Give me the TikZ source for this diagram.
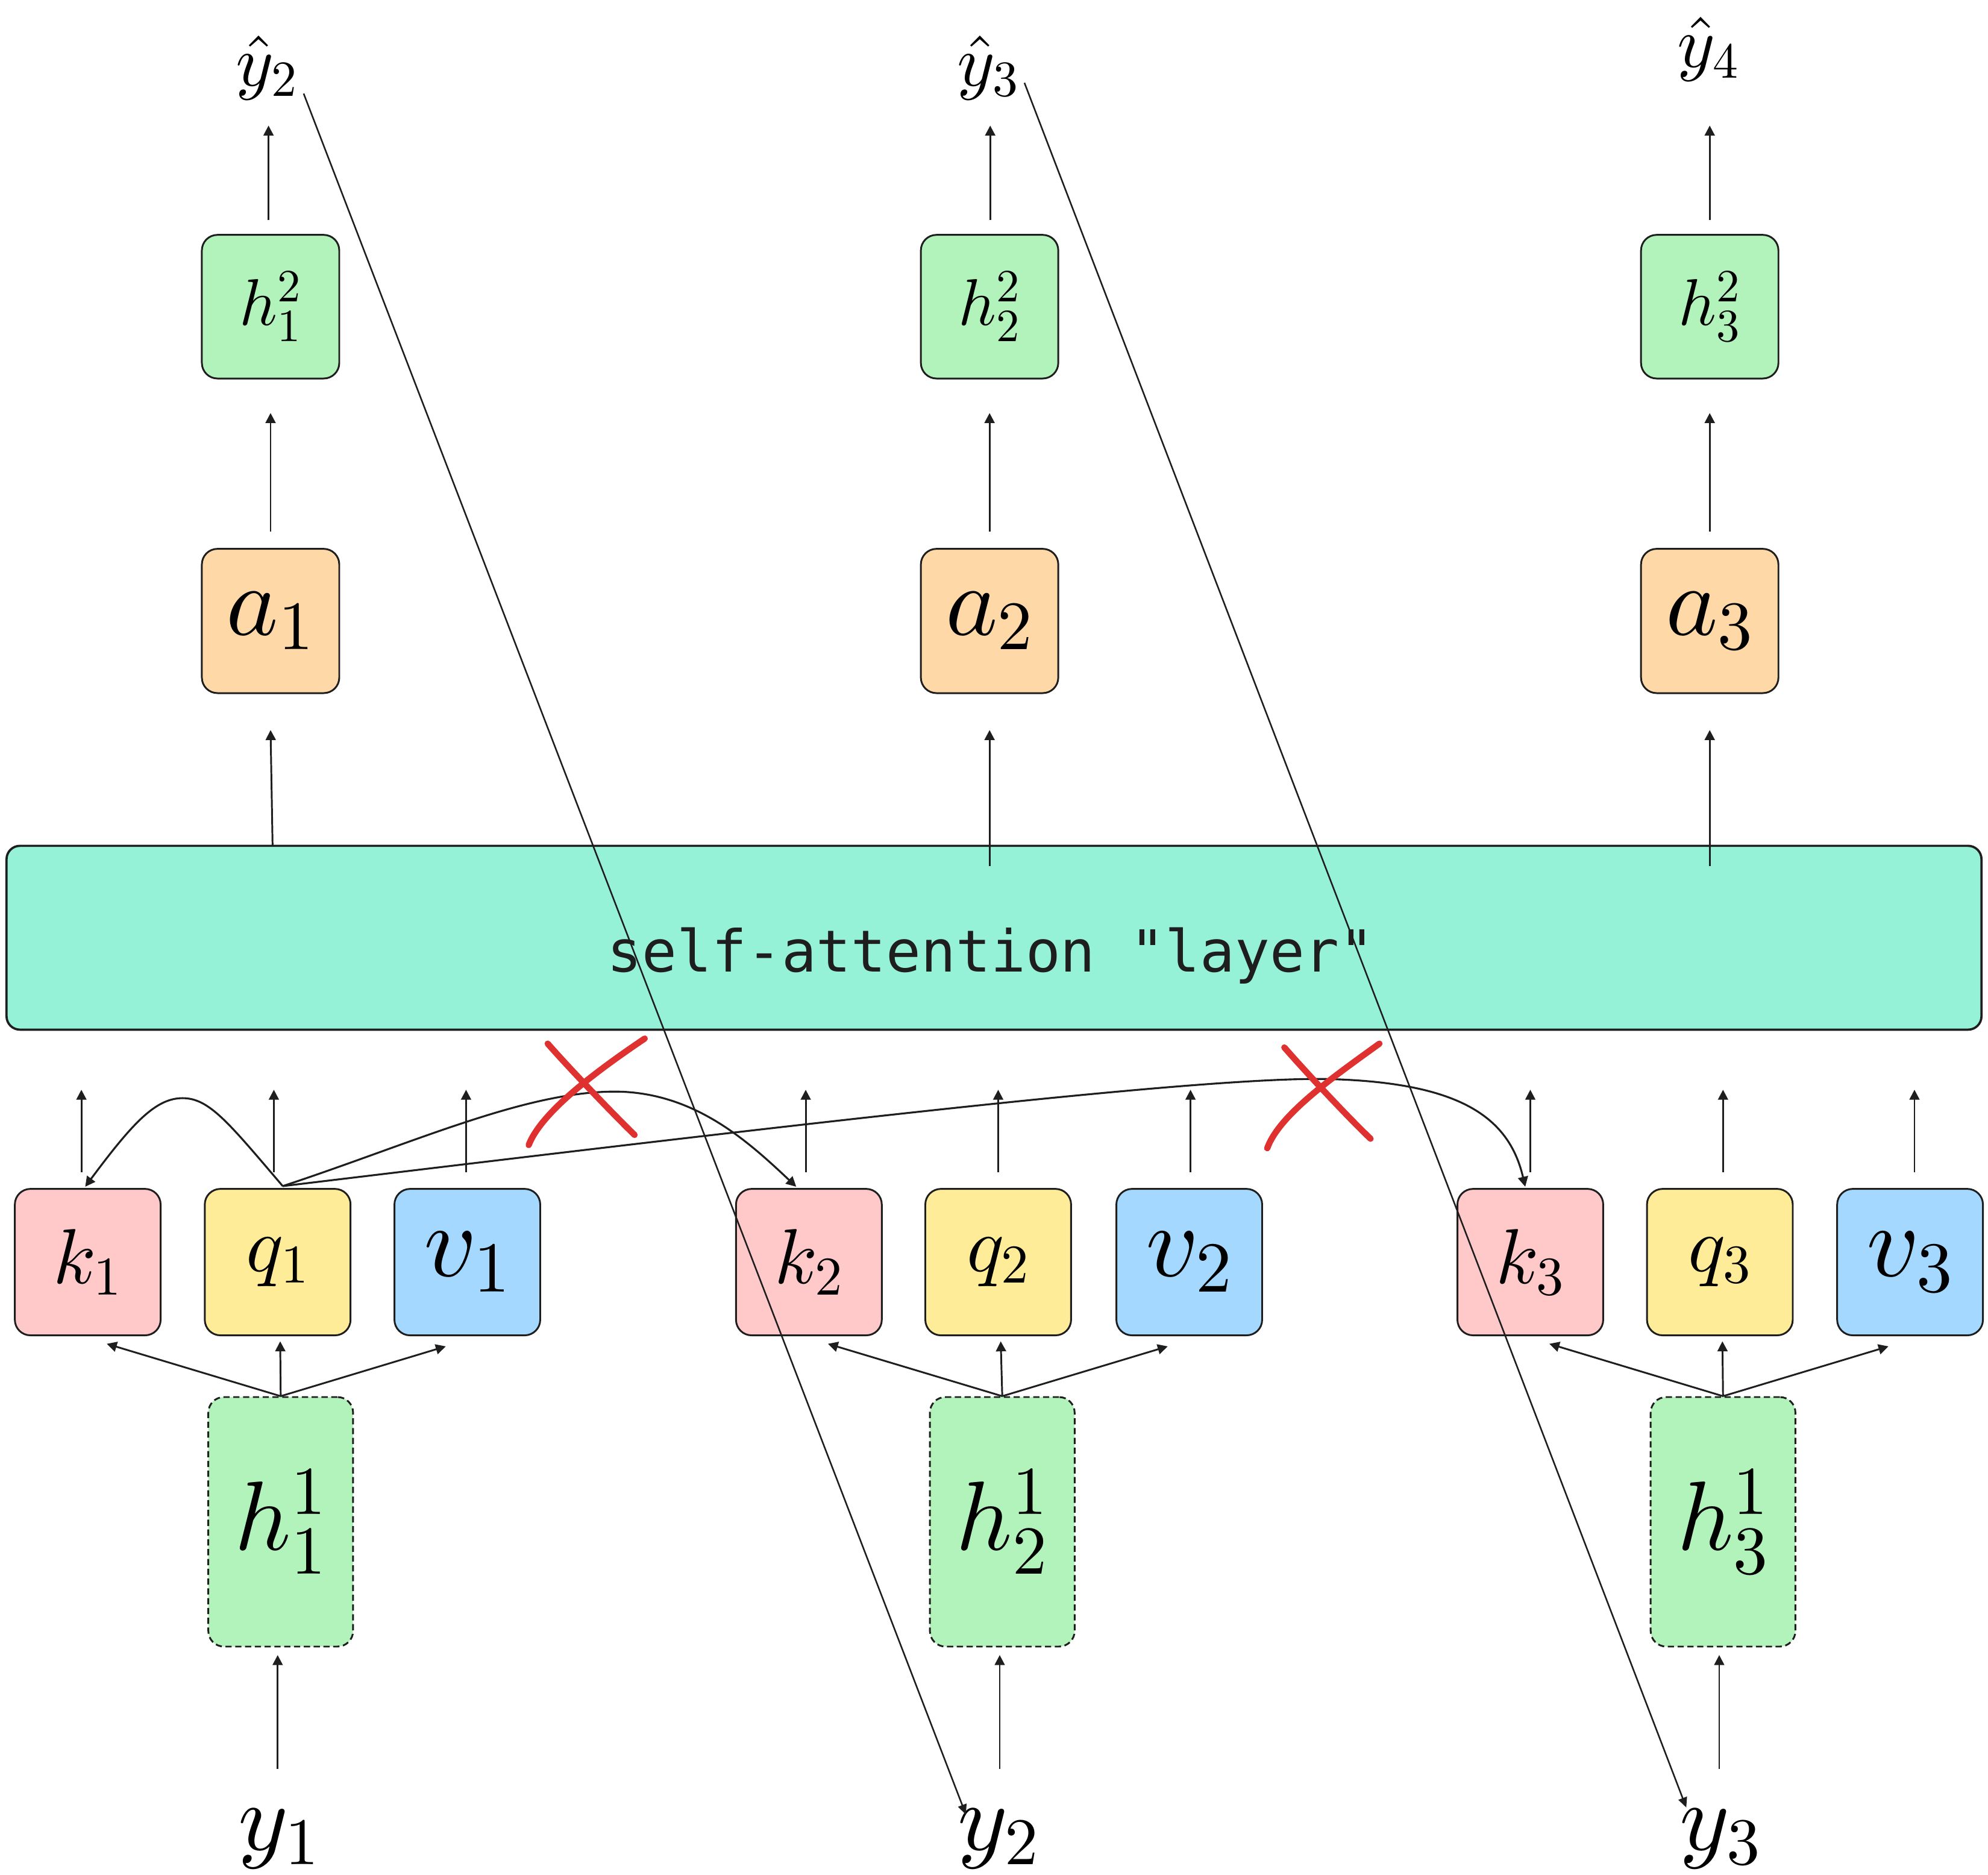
\RequirePackage{fix-cm}
\documentclass[tikz,border=0pt]{standalone}
\usepackage{fontspec}
\setmonofont{DejaVu Sans Mono}
\usetikzlibrary{arrows.meta,calc}
\DeclareFontFamily{OML}{cmm}{\skewchar\font'177}
\DeclareFontShape{OML}{cmm}{m}{it}{<->cmmi10}{}
\DeclareFontShape{OT1}{cmr}{m}{n}{<->cmr10}{}
\definecolor{ink}{HTML}{1E1E1E}
\definecolor{hgreen}{HTML}{B2F2BB}
\definecolor{aorange}{HTML}{FFD8A8}
\definecolor{layerteal}{HTML}{96F2D7}
\definecolor{kpink}{HTML}{FFC9C9}
\definecolor{qyellow}{HTML}{FFEC99}
\definecolor{vblue}{HTML}{A5D8FF}
\definecolor{xred}{HTML}{E03131}
\tikzset{
  boxbase/.style={draw=ink, line width=0.8pt, rounded corners=7pt, inner sep=0pt, text=black},
  htwobox/.style={boxbase, fill=hgreen, minimum width=2.168cm, minimum height=2.266cm, font=\fontsize{29.6pt}{34pt}\selectfont},
  abox/.style={boxbase, fill=aorange, minimum width=2.168cm, minimum height=2.276cm, font=\fontsize{44.4pt}{50pt}\selectfont},
  kbox/.style={boxbase, fill=kpink, minimum width=2.3cm, minimum height=2.31cm, font=\fontsize{35pt}{40pt}\selectfont},
  qbox/.style={boxbase, fill=qyellow, minimum width=2.3cm, minimum height=2.31cm, font=\fontsize{35pt}{40pt}\selectfont},
  vbox/.style={boxbase, fill=vblue, minimum width=2.3cm, minimum height=2.31cm, font=\fontsize{46pt}{52pt}\selectfont},
  honebox/.style={boxbase, fill=hgreen, dash pattern=on 2.8pt off 1.6pt, minimum width=2.284cm, minimum height=3.936cm, font=\fontsize{44pt}{50pt}\selectfont},
  layerbox/.style={draw=ink, line width=1pt, rounded corners=6pt, fill=layerteal, minimum width=31.16cm, minimum height=2.9cm, inner sep=0pt},
  ylab/.style={anchor=base, inner sep=0pt, font=\fontsize{42.7pt}{48pt}\selectfont},
  yhatlab/.style={anchor=base, inner sep=0pt, font=\fontsize{32.4pt}{38pt}\selectfont},
  arr/.style={draw=ink, line width=0.8pt, -{Triangle[length=4.5pt,width=4.5pt]}},
  curvearr/.style={draw=ink, line width=0.85pt, -{Triangle[length=4.5pt,width=4.5pt]}},
  longarr/.style={draw=ink, line width=0.7pt, -{Triangle[length=4.5pt,width=4pt]}},
  redx/.style={draw=xred, line width=2.8pt, line cap=round}
}
\begin{document}
\begin{tikzpicture}[x=0.02cm,y=-0.02cm]
\useasboundingbox (0,0) rectangle (1568,1478.6);

% top labels
\node[yhatlab] (yh2) at (210.5,67.5) {$\hat{y}_2$};
\node[yhatlab] (yh3) at (779.4,67.5) {$\hat{y}_3$};
\node[yhatlab] (yh4) at (1347.5,53) {$\hat{y}_4$};

% h^2 boxes
\node[htwobox] (h21) at (213.4,241.85) {$h_1^2$};
\node[htwobox] (h22) at (780.5,241.85) {$h_2^2$};
\node[htwobox] (h23) at (1348.5,241.85) {$h_3^2$};

% a boxes
\node[abox] (a1) at (213.4,489.7) {$a_1$};
\node[abox] (a2) at (780.5,489.7) {$a_2$};
\node[abox] (a3) at (1348.5,489.7) {$a_3$};

% layer
\node[layerbox] (layer) at (784,739.5) {};
\node[anchor=base, inner sep=0pt, font=\ttfamily\fontsize{26pt}{30pt}\selectfont, text=ink] (layertext) at (781.5,766.6) {self-attention "layer"};

% k q v boxes
\node[kbox] (k1) at (69.2,995.3) {$k_1$};
\node[qbox] (q1) at (219,995.3) {$q_1$};
\node[vbox] (v1) at (368.6,995.3) {$v_1$};
\node[kbox] (k2) at (638,995.3) {$k_2$};
\node[qbox] (q2) at (787.3,995.3) {$q_2$};
\node[vbox] (v2) at (938,995.3) {$v_2$};
\node[kbox] (k3) at (1207,995.3) {$k_3$};
\node[qbox] (q3) at (1356.5,995.3) {$q_3$};
\node[vbox] (v3) at (1506.5,995.3) {$v_3$};

% h^1 boxes
\node[honebox] (h11) at (221.4,1200.1) {$h_1^1$};
\node[honebox] (h12) at (790.5,1200.1) {$h_2^1$};
\node[honebox] (h13) at (1359,1200.1) {$h_3^1$};

% bottom labels
\node[ylab] (y1) at (220,1459) {$y_1$};
\node[ylab] (y2) at (787.5,1459) {$y_2$};
\node[ylab] (y3) at (1357,1459) {$y_3$};

% y -> h^1
\foreach \i/\d in {1/-2.4,2/-2,3/-3}{
  \draw[arr] ([shift={(\d,96)}]h1\i.south) -- ([shift={(\d,6)}]h1\i.south);
}

% h^1 -> k q v fan
\foreach \i in {1,2,3}{
  \draw[arr] (h1\i.north) -- ([shift={(15,6)}]k\i.south);
  \draw[arr] (h1\i.north) -- ([shift={(2,4)}]q\i.south);
  \draw[arr] (h1\i.north) -- ([shift={(-17,8)}]v\i.south);
}

% k q v -> layer
\foreach \n/\d in {k1/-5,q1/-3,v1/-1,k2/-2.5,q2/0,v2/1,k3/0,q3/2.5,v3/3.5}{
  \draw[arr] ([shift={(\d,-12.5)}]\n.north) -- ++(0,-65);
}

% layer -> a
\coordinate (s1) at (215,667);
\coordinate (s2) at (780.5,683);
\coordinate (s3) at (1348.5,683);
\draw[arr] (s1) -- ([shift={(0,28.4)}]a1.south);
\draw[arr] (s2) -- ([shift={(0,28.4)}]a2.south);
\draw[arr] (s3) -- ([shift={(0,28.4)}]a3.south);

% a -> h^2
\foreach \i in {1,2,3}{
  \draw[arr] ([shift={(0,-12.8)}]a\i.north) -- ([shift={(0,26.5)}]h2\i.south);
}

% h^2 -> yhat
\draw[arr] ([shift={(-1.6,-10.8)}]h21.north) -- ++(0,-74.7);
\draw[arr] ([shift={(0.5,-10.8)}]h22.north) -- ++(0,-74.7);
\draw[arr] ([shift={(0,-10.8)}]h23.north) -- ++(0,-74.7);

% attention curves from q1
\draw[curvearr] ([shift={(4,-1.5)}]q1.north) .. controls (180,885) and (165,866) .. (144,866)
   .. controls (123,866) and (105,885) .. ([shift={(-2,-1)}]k1.north);
\draw[curvearr] ([shift={(4,-1.5)}]q1.north) .. controls (330,900) and (420,858) .. (492,861)
   .. controls (550,864) and (590,900) .. ([shift={(-10,-1)}]k2.north);
\draw[curvearr] ([shift={(4,-1.5)}]q1.north) .. controls (600,890) and (950,848) .. (1050,851)
   .. controls (1150,854) and (1190,880) .. ([shift={(-4,-1)}]k3.north);

% long shift lines
\draw[longarr] ([shift={(29,6.3)}]yh2.base) -- ([shift={(-25.7,-28.1)}]y2.base);
\draw[longarr] ([shift={(28.6,-2.2)}]yh3.base) -- ([shift={(-27,-33.6)}]y3.base);

% red crosses
\draw[redx] (432,823) .. controls (445,838) and (480,875) .. (500.5,895);
\draw[redx] (417,903) .. controls (427,877) and (470,845) .. (508.5,819);
\draw[redx] (1013,826) .. controls (1026,841) and (1062,880) .. (1081,898);
\draw[redx] (999.5,905.5) .. controls (1009,879) and (1052,849) .. (1088,823);
\end{tikzpicture}
\end{document}
